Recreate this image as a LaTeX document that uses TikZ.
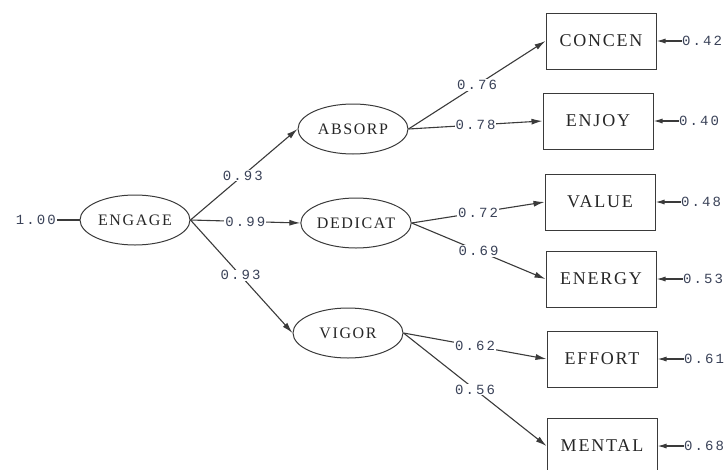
\documentclass[tikz,border=0pt]{standalone}
\usepackage{fontspec}
\usetikzlibrary{shapes.geometric,arrows.meta}
\newfontfamily\numfont[LetterSpace=15]{Liberation Mono}
\newfontfamily\boxfont[LetterSpace=10]{Liberation Serif}
\newfontfamily\ellfont[LetterSpace=10]{Liberation Serif}
\definecolor{ln}{HTML}{3A3A3A}
\definecolor{tx}{HTML}{262626}
\definecolor{nm}{HTML}{3A4258}
\begin{document}
\begin{tikzpicture}[x=1pt,y=-1pt,
  lat/.style={ellipse,draw=ln,line width=1pt,minimum width=110pt,minimum height=50pt,inner sep=0pt,font=\ellfont\fontsize{16}{16}\selectfont,text=tx},
  obs/.style={rectangle,draw=ln,line width=1pt,minimum width=110pt,minimum height=56pt,inner sep=0pt,font=\boxfont\fontsize{18}{18}\selectfont,text=tx},
  num/.style={font=\numfont\fontsize{14}{14}\selectfont,text=nm,inner sep=1pt},
  lbl/.style={num,fill=white},
  con/.style={draw=ln,line width=1.1pt,-{Latex[length=11pt,width=6pt]}},
  err/.style={draw=ln,line width=1.1pt,-{Latex[length=9pt,width=5pt]}},
  ]
\useasboundingbox (0,0) rectangle (727,469);
\node[lat] (engage) at (135,220) {ENGAGE};
\node[lat] (absorp) at (353,129) {ABSORP};
\node[lat] (dedicat) at (356,223) {DEDICAT};
\node[lat] (vigor) at (348,333) {VIGOR};
\node[obs] (concen) at (601,41) {CONCEN};
\node[obs] (enjoy) at (598,121) {ENJOY};
\node[obs] (value) at (600,202) {VALUE};
\node[obs] (energy) at (601,279) {ENERGY};
\node[obs] (effort) at (602,359) {EFFORT};
\node[obs] (mental) at (602,446) {MENTAL};

\node[num,anchor=east] (one) at (57,220) {1.00};
\draw[draw=ln,line width=1.1pt] (one.east) -- (engage.west);

\draw[con] (engage.east) -- node[lbl,pos=0.49]{0.93} (absorp.west);
\draw[con] (engage.east) -- node[lbl,pos=0.5]{0.99} (dedicat.west);
\draw[con] (engage.east) -- node[lbl,pos=0.49]{0.93} (vigor.west);

\draw[con] (absorp.east) -- node[lbl,pos=0.5]{0.76} (concen.west);
\draw[con] (absorp.east) -- node[lbl,pos=0.5]{0.78} (enjoy.west);
\draw[con] (dedicat.east) -- node[lbl,pos=0.5]{0.72} (value.west);
\draw[con] (dedicat.east) -- node[lbl,pos=0.5]{0.69} (energy.west);
\draw[con] (vigor.east) -- node[lbl,pos=0.5]{0.62} (effort.west);
\draw[con] (vigor.east) -- node[lbl,pos=0.5]{0.56} (mental.west);

\node[num,anchor=west,inner sep=0pt] (e1) at (682,41) {0.42};
\node[num,anchor=west,inner sep=0pt] (e2) at (679,121) {0.40};
\node[num,anchor=west,inner sep=0pt] (e3) at (681,202) {0.48};
\node[num,anchor=west,inner sep=0pt] (e4) at (683,279) {0.53};
\node[num,anchor=west,inner sep=0pt] (e5) at (684,359) {0.61};
\node[num,anchor=west,inner sep=0pt] (e6) at (684,446) {0.68};
\draw[err] (e1.west) -- (concen.east);
\draw[err] (e2.west) -- (enjoy.east);
\draw[err] (e3.west) -- (value.east);
\draw[err] (e4.west) -- (energy.east);
\draw[err] (e5.west) -- (effort.east);
\draw[err] (e6.west) -- (mental.east);
\end{tikzpicture}
\end{document}
